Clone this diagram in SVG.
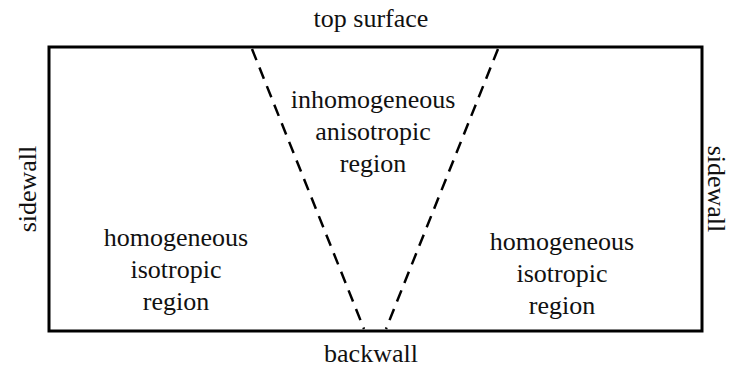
<svg xmlns="http://www.w3.org/2000/svg" width="741" height="376" viewBox="0 0 741 376">
<style>
.t{font-size:26px;fill:#111;text-anchor:middle}
.box{fill:#fff;stroke:#000;stroke-width:3}
.dash{stroke:#000;stroke-width:2.5;stroke-dasharray:12 8;fill:none}
</style>
<rect width="741" height="376" fill="#fff"/>
<g id="body"><rect class="box" x="49" y="47" width="653" height="284"/></g>
<g id="connectors">
<line class="dash" x1="252" y1="49" x2="364" y2="329"/>
<line class="dash" x1="498" y1="49" x2="386" y2="329"/>
</g>
<g font-family="Liberation Serif, Times New Roman, serif">
<g id="top"><text class="t" x="371" y="27">top surface</text></g>
<g id="bottom"><text class="t" x="371" y="362">backwall</text></g>
<g id="sidewall-left"><text class="t" transform="translate(28,189) rotate(-90)" y="8">sidewall</text></g>
<g id="sidewall-right"><text class="t" transform="translate(716,189) rotate(90)" y="8">sidewall</text></g>
<g id="left-region">
<text class="t" x="176" y="246">homogeneous</text>
<text class="t" x="176" y="278">isotropic</text>
<text class="t" x="176" y="310">region</text>
</g>
<g id="middle-region">
<text class="t" x="373" y="108">inhomogeneous</text>
<text class="t" x="373" y="140">anisotropic</text>
<text class="t" x="373" y="172">region</text>
</g>
<g id="right-region">
<text class="t" x="562" y="250">homogeneous</text>
<text class="t" x="562" y="282">isotropic</text>
<text class="t" x="562" y="314">region</text>
</g>
</g>
</svg>
